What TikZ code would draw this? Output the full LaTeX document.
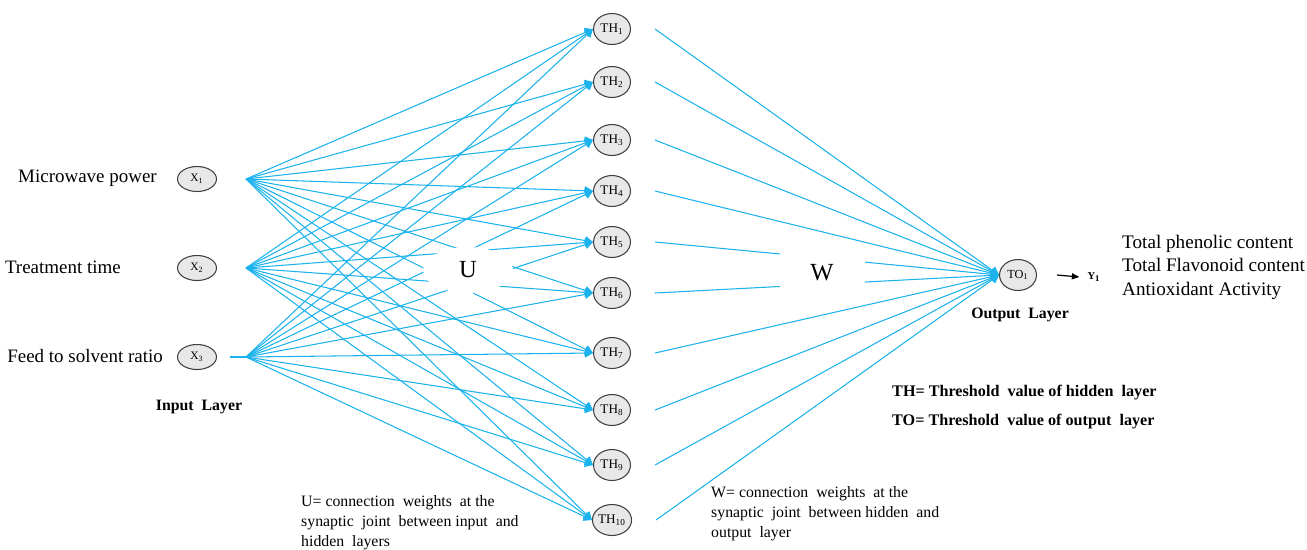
\documentclass[tikz,border=0pt]{standalone}
\usepackage{fontspec}
\setmainfont{Liberation Serif}
\usetikzlibrary{arrows.meta, shapes.geometric}
\definecolor{linkblue}{HTML}{1CB2EC}
\tikzset{
	neuron/.style={ellipse, draw=black!75, fill=black!9, line width=0.6pt, inner sep=0pt},
	innode/.style={neuron, minimum width=0.78cm, minimum height=0.5cm, font=\fontsize{6.5}{7}\selectfont},
	hidnode/.style={neuron, minimum width=0.74cm, minimum height=0.62cm, font=\fontsize{7.5}{8}\selectfont},
	link/.style={linkblue, line width=0.6pt, -{Triangle[length=0.16cm, width=0.18cm]}},
	wlabel/.style={fill=white, inner sep=0pt, font=\fontsize{14}{16}\selectfont},
	layername/.style={font=\bfseries\fontsize{9}{11}\selectfont},
	note/.style={align=left, anchor=west, font=\fontsize{9}{11.4}\selectfont}
}
\begin{document}
\begin{tikzpicture}[x=0.02cm, y=-0.02cm]
	\useasboundingbox (0,0) rectangle (1307,549);
	\foreach \y/\lx/\txt [count=\i] in {179/163/Microwave power, 268/127/Treatment time, 357/169/Feed to solvent ratio}{
		\node[innode] (x\i) at (197,\y) {X\textsubscript{\i}};
		\node[anchor=east, font=\fontsize{10.8}{13}\selectfont] (in\i) at (\lx,\y-1) {\txt};
		\coordinate (f\i) at (246,\y);
	}
	\node[layername] (inlayer) at (199,407) {Input\ \ Layer};
	\foreach \y [count=\j] in {29,82,140,191,242,293,353,410,465,520}
		\node[hidnode] (h\j) at (612,\y) {TH\textsubscript{\j}};
	\node[hidnode, font=\fontsize{7}{8}\selectfont] (o1) at (1018,275) {TO\textsubscript{1}};
	\node[layername] (outlayer) at (1020,315) {Output\ \ Layer};
	\node[font=\bfseries\fontsize{6}{7}\selectfont] (y1) at (1094,277) {Y\textsubscript{1}};
	\draw[line width=0.7pt, -{Triangle[length=0.15cm, width=0.12cm]}] ([xshift=0.4cm]o1.east) -- ([xshift=-0.04cm]y1.west);
	\node[anchor=west, align=left, font=\fontsize{10.9}{13.4}\selectfont] (targets) at (1116,267)
		{Total phenolic content\\Total Flavonoid content\\Antioxidant Activity};

	\draw[linkblue, line width=0.6pt] ([xshift=0.26cm]x3.east) -- (f3);
	\foreach \i in {1,2,3}
		\foreach \j in {1,...,10}
			\draw[link] (f\i) -- (h\j.west);
	\foreach \j in {1,...,10}
		\draw[link] ([xshift=0.48cm]h\j.east) -- (o1.west);

	\node[wlabel, ellipse, minimum width=1.8cm, minimum height=0.92cm] (u) at (468,270) {U};
	\node[wlabel, minimum width=1.7cm, minimum height=1.1cm] (w) at (822,273) {W};

	\node[note, font=\bfseries\fontsize{9.2}{11}\selectfont] (thnote) at (886,393) {TH= Threshold\ \ value of hidden\ \ layer};
	\node[note, font=\bfseries\fontsize{9.2}{11}\selectfont] (tonote) at (886,422) {TO= Threshold\ \ value of output\ \ layer};
	\node[note] (unote) at (295,523) {U= connection\ \ weights\ \ at the\\synaptic\ \ joint\ \ between input\ \ and\\hidden\ \ layers};
	\node[note] (wnote) at (705,514) {W= connection\ \ weights\ \ at the\\synaptic\ \ joint\ \ between hidden\ \ and\\output\ \ layer};
\end{tikzpicture}
\end{document}
